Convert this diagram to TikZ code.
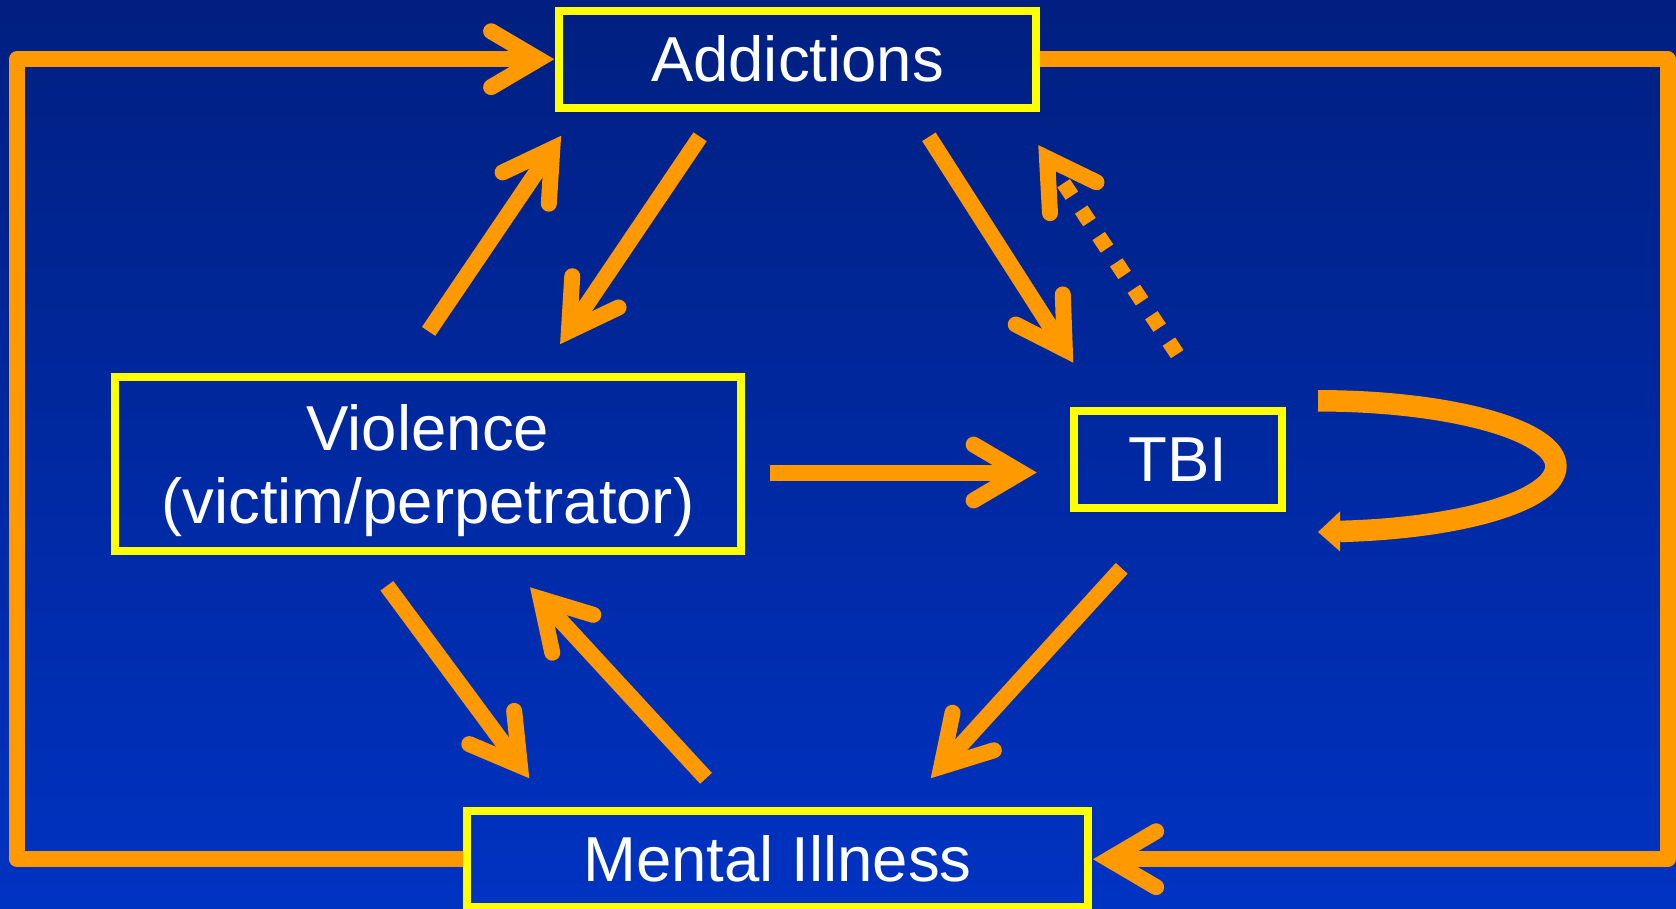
\documentclass[tikz,border=0pt]{standalone}
\usepackage{fontspec}
\setmainfont{Liberation Sans}
\usetikzlibrary{calc}
\definecolor{arrowor}{HTML}{FF9900}
\definecolor{boxyel}{HTML}{FFFF00}
\definecolor{bgtop}{HTML}{001F80}
\definecolor{bgbot}{HTML}{0033C2}
\newcommand\barbarrow[3][]{%
  \draw[conn,#1] (#2) -- (#3);
  \draw[barb] ($(#3)!55pt!30.5:(#2)$) -- (#3) -- ($(#3)!55pt!-30.5:(#2)$);
}
\begin{document}
\begin{tikzpicture}[x=1pt,y=-1pt,
  conn/.style={draw=arrowor, line width=16pt, line cap=butt},
  barb/.style={draw=arrowor, line width=16pt, line cap=round, line join=miter},
  loopline/.style={draw=arrowor, line width=16pt, line join=round},
  box/.style={draw=boxyel, line width=8pt, inner sep=0pt, text=white,
    font=\fontsize{63.5}{73.5}\selectfont},
]
\useasboundingbox (0,0) rectangle (1676,908);
\begin{scope}[overlay]
\clip (0,0) rectangle (1676,908);
\shade[top color=bgtop, bottom color=bgbot] (0,0) rectangle (1676,908);

% boxes
\node[box, minimum width=477pt, minimum height=97pt] (add) at (797.5,59.2) {Addictions};
\node[box, minimum width=626.3pt, minimum height=173.7pt, align=center, text depth=0pt] (vio) at (427.9,464.2) {Violence\\(victim/perpetrator)};
\node[box, minimum width=208pt, minimum height=97pt] (tbi) at (1178,459.2) {TBI};
\node[box, minimum width=621.7pt, minimum height=95.7pt] (mi) at (777.5,859.2) {Mental Illness};

% connector end points
\coordinate (vaS) at (428.6,331.4);  \coordinate (vaT) at (552.3,148.8);
\coordinate (avS) at (700.1,136.8);  \coordinate (avT) at (568.9,331.1);
\coordinate (atS) at (928.9,136.8);  \coordinate (atT) at (1064.8,349.4);
\coordinate (taS) at (1177.2,354.1); \coordinate (taT) at (1047,158.2);
\coordinate (vtS) at (769.6,472.5);  \coordinate (vtT) at (1021,472.5);
\coordinate (tmS) at (1121.7,568.3); \coordinate (tmT) at (941.3,766.6);
\coordinate (vmS) at (386.9,585.8);  \coordinate (vmT) at (519.9,765.6);
\coordinate (mvS) at (706,778.3);    \coordinate (mvT) at (540.7,598.9);

\coordinate (LL) at (17,0);
\coordinate (RR) at (1667.5,0);
\coordinate (LT) at (LL |- add.west);
\coordinate (LB) at (LL |- mi.west);
\coordinate (RT) at (RR |- add.east);
\coordinate (RB) at (RR |- mi.east);
\coordinate (addT) at ([xshift=-16.5pt]add.west);
\coordinate (miT) at ([xshift=16.4pt]mi.east);

% outer loops
\draw[loopline] (mi.west) -- (LB) -- (LT) -- (addT);
\draw[barb] ($(addT)!55pt!30.5:(LT)$) -- (addT) -- ($(addT)!55pt!-30.5:(LT)$);
\draw[loopline] (add.east) -- (RT) -- (RB) -- (miT);
\draw[barb] ($(miT)!55pt!30.5:(RB)$) -- (miT) -- ($(miT)!55pt!-30.5:(RB)$);

% inner connectors
\barbarrow{vaS}{vaT}
\barbarrow{avS}{avT}
\barbarrow{atS}{atT}
\barbarrow[dash pattern=on 15pt off 16.7pt, line width=15pt]{taS}{taT}
\barbarrow{vtS}{vtT}
\barbarrow{tmS}{tmT}
\barbarrow{vmS}{vmT}
\barbarrow{mvS}{mvT}

% self loop at TBI
\coordinate (lpS) at (1318,400.8);
\coordinate (lpE) at (1340,531.4);
\coordinate (lpT) at (1318,532);
\draw[draw=arrowor, line width=21.5pt] (lpS) arc[start angle=90, end angle=-84.7, x radius=237.9pt, y radius=65.45pt];
\fill[arrowor] ([yshift=-20pt]lpE) -- (lpT) -- ([yshift=20pt]lpE) -- cycle;
\end{scope}
\end{tikzpicture}
\end{document}
